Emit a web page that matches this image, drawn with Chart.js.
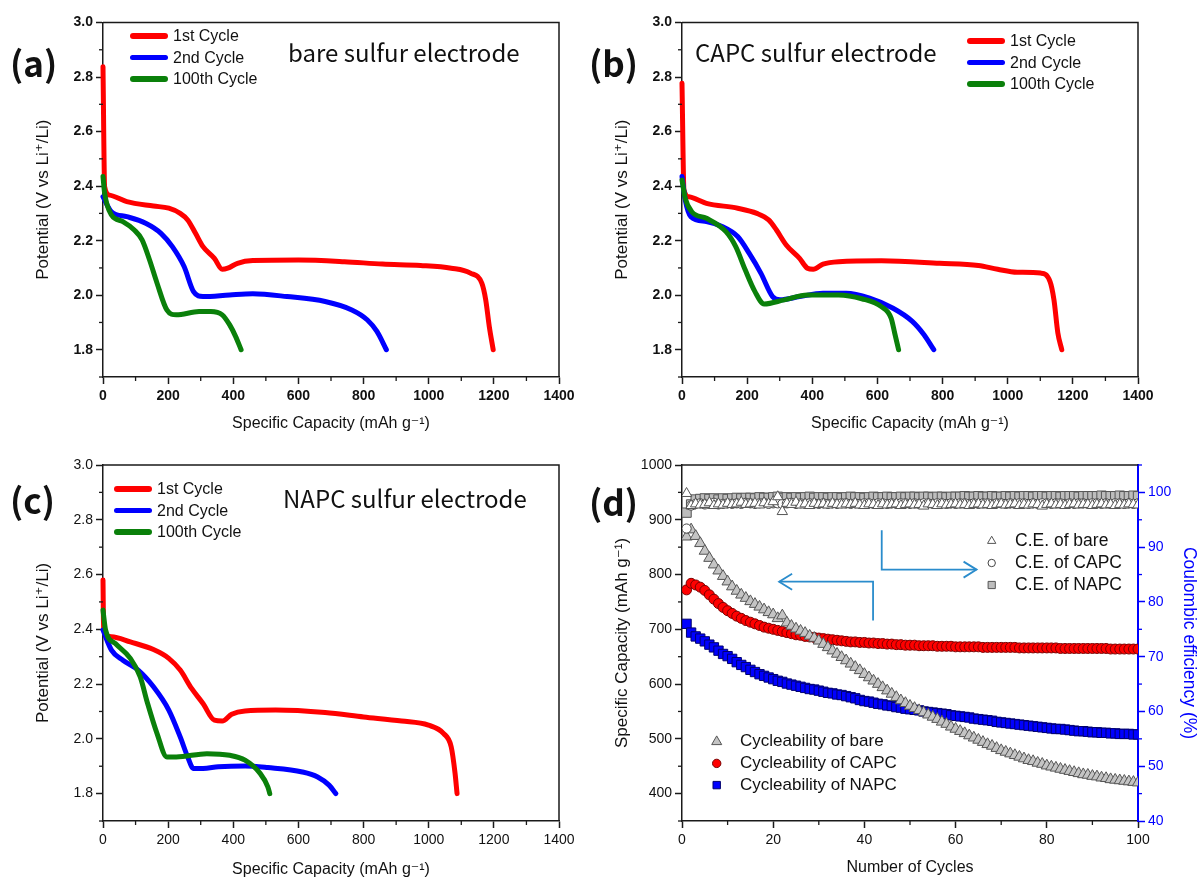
<!DOCTYPE html>
<html lang="en">
<head>
<meta charset="UTF-8">
<title>Discharge profiles and cycling of sulfur electrodes</title>
<script src="https://cdn.jsdelivr.net/npm/chart.js"></script>
<style>
  body { margin: 0; background: #fff; width: 1199px; height: 879px; position: relative; overflow: hidden;
         font-family: "Liberation Sans", Arial, sans-serif; }
  canvas { position: absolute; }
  .tag { position: absolute; font-family: "Noto Sans CJK KR", "Open Sans", sans-serif; font-weight: bold;
         font-size: 35px; height: 40px; line-height: 40px; color: #111; white-space: nowrap; }
  .note { position: absolute; font-family: "Noto Sans CJK KR", "Open Sans", sans-serif; font-size: 24px;
          height: 30px; line-height: 30px; color: #111; white-space: nowrap; }
  .legend { position: absolute; font-size: 16px; color: #111; }
  .legend .row { display: flex; align-items: center; height: 21.7px; white-space: nowrap; }
  .legend .sw { display: inline-block; width: 38px; height: 5.5px; border-radius: 3px; margin-right: 5px; }
</style>
</head>
<body>
<canvas id="chartA" width="600" height="440" style="left:0;top:0"></canvas>
<canvas id="chartB" width="600" height="440" style="left:599px;top:0"></canvas>
<canvas id="chartC" width="600" height="439" style="left:0;top:440px"></canvas>
<canvas id="chartD" width="600" height="439" style="left:599px;top:440px"></canvas>

<div class="tag" style="left:10px;top:42px">(a)</div>
<div class="tag" style="left:589px;top:42px">(b)</div>
<div class="tag" style="left:10px;top:479px">(c)</div>
<div class="tag" style="left:589px;top:481px">(d)</div>

<div class="note" style="left:288px;top:37px">bare sulfur electrode</div>
<div class="note" style="left:695px;top:37px">CAPC sulfur electrode</div>
<div class="note" style="left:283px;top:483px">NAPC sulfur electrode</div>

<div class="legend" id="legA" style="left:130px;top:25px"></div>
<div class="legend" id="legB" style="left:967px;top:30px"></div>
<div class="legend" id="legC" style="left:114px;top:478px"></div>

<script>
// ---- data: discharge curves (capacity mAh/g, potential V) ----
const cycleLabels = ['1st Cycle', '2nd Cycle', '100th Cycle'];
const cycleColors = ['#ff0000', '#0000ff', '#0a800a'];

// (a) bare sulfur electrode
const aCap1 = [0, 5, 20, 73, 155, 202, 237, 260, 284, 307, 342, 366, 383, 413, 460, 600, 741, 858, 975, 1069, 1128, 1163, 1175, 1186, 1198];
const aV1 = [2.838, 2.398, 2.367, 2.343, 2.327, 2.319, 2.300, 2.276, 2.227, 2.178, 2.135, 2.095, 2.099, 2.117, 2.127, 2.129, 2.123, 2.114, 2.109, 2.099, 2.081, 2.044, 1.983, 1.885, 1.800];
const aCap2 = [0, 26, 73, 131, 178, 213, 249, 278, 307, 389, 460, 565, 682, 764, 811, 841, 870];
const aV2 = [2.361, 2.306, 2.288, 2.264, 2.227, 2.178, 2.105, 2.013, 1.995, 2.001, 2.005, 1.995, 1.977, 1.946, 1.910, 1.867, 1.800];
const aCap100 = [0, 5, 26, 61, 96, 120, 143, 166, 196, 225, 295, 331, 366, 389, 407, 424];
const aV100 = [2.435, 2.374, 2.294, 2.270, 2.239, 2.203, 2.129, 2.044, 1.946, 1.928, 1.940, 1.940, 1.928, 1.891, 1.849, 1.800];

// (b) CAPC sulfur electrode
const bCap1 = [0, 6, 21, 75, 171, 230, 266, 290, 320, 361, 385, 403, 433, 481, 612, 791, 910, 969, 1029, 1101, 1130, 1142, 1154, 1166];
const bV1 = [2.777, 2.386, 2.361, 2.337, 2.319, 2.300, 2.276, 2.239, 2.184, 2.135, 2.099, 2.095, 2.114, 2.123, 2.126, 2.117, 2.109, 2.095, 2.084, 2.081, 2.050, 1.983, 1.861, 1.800];
const bCap2 = [0, 10, 27, 75, 123, 171, 206, 242, 278, 301, 361, 433, 504, 576, 648, 707, 743, 773];
const bV2 = [2.435, 2.349, 2.288, 2.270, 2.252, 2.215, 2.154, 2.081, 1.995, 1.983, 1.995, 2.007, 2.007, 1.989, 1.952, 1.904, 1.855, 1.800];
const bCap100 = [0, 10, 30, 75, 135, 165, 194, 224, 252, 314, 385, 481, 552, 612, 642, 653, 665];
const bV100 = [2.422, 2.355, 2.306, 2.282, 2.233, 2.178, 2.093, 2.013, 1.968, 1.983, 2.001, 2.001, 1.987, 1.958, 1.916, 1.861, 1.800];

// (c) NAPC sulfur electrode
const cCap1 = [0, 2, 26, 84, 155, 202, 237, 272, 307, 342, 366, 395, 436, 530, 682, 800, 917, 999, 1046, 1069, 1081, 1087];
const cV1 = [2.580, 2.397, 2.373, 2.354, 2.326, 2.294, 2.251, 2.184, 2.129, 2.068, 2.065, 2.090, 2.102, 2.105, 2.096, 2.080, 2.065, 2.050, 2.019, 1.971, 1.873, 1.800];
const cCap2 = [0, 26, 61, 108, 155, 202, 237, 260, 278, 307, 354, 436, 506, 612, 659, 694, 715];
const cV2 = [2.397, 2.324, 2.287, 2.251, 2.190, 2.105, 2.007, 1.934, 1.892, 1.892, 1.898, 1.901, 1.895, 1.879, 1.861, 1.831, 1.800];
const cCap100 = [0, 8, 38, 84, 114, 137, 166, 196, 225, 319, 389, 436, 483, 506, 512];
const cV100 = [2.470, 2.397, 2.348, 2.294, 2.227, 2.129, 2.019, 1.934, 1.934, 1.946, 1.940, 1.922, 1.873, 1.825, 1.800];

// ---- data: (d) cycling, cycles 1..100 ----
const capBare = [869, 882, 870, 857, 843, 830, 818, 807, 797, 787,
  778, 770, 763, 757, 751, 746, 741, 736, 731, 727,
  720, 725, 712, 706, 701, 697, 693, 688, 684, 679,
  673, 667, 661, 655, 649, 643, 637, 631, 625, 618,
  612, 606, 600, 594, 588, 582, 576, 570, 565, 560,
  556, 552, 548, 544, 540, 536, 531, 527, 522, 518,
  514, 510, 506, 502, 498, 494, 490, 487, 483, 479,
  476, 473, 470, 467, 464, 461, 459, 456, 454, 451,
  449, 447, 445, 443, 441, 439, 437, 435, 434, 432,
  431, 429, 428, 426, 425, 424, 423, 422, 421, 420];
const capCAPC = [772, 784, 781, 777, 771, 763, 755, 747, 740, 734,
  729, 724, 720, 716, 713, 710, 707, 704, 702, 700,
  698, 696, 694, 692, 690, 689, 687, 686, 685, 684,
  683, 682, 681, 680, 679, 678, 677, 677, 676, 676,
  675, 675, 674, 674, 673, 673, 672, 672, 671, 671,
  671, 670, 670, 670, 670, 669, 669, 669, 669, 668,
  668, 668, 668, 668, 668, 667, 667, 667, 667, 667,
  667, 667, 667, 666, 666, 666, 666, 666, 666, 666,
  666, 666, 665, 665, 665, 665, 665, 665, 665, 665,
  665, 665, 665, 664, 664, 664, 664, 664, 664, 664];
const capNAPC = [710, 694, 687, 683, 678, 672, 667, 661, 655, 651,
  646, 640, 635, 631, 626, 622, 618, 615, 612, 609,
  606, 604, 601, 599, 597, 595, 593, 591, 590, 588,
  586, 584, 583, 581, 580, 578, 576, 574, 571, 569,
  568, 566, 564, 563, 561, 560, 558, 557, 555, 554,
  553, 552, 550, 549, 548, 547, 546, 545, 543, 542,
  541, 540, 539, 537, 536, 535, 534, 533, 531, 530,
  529, 528, 527, 526, 525, 524, 523, 522, 521, 520,
  519, 518, 518, 517, 516, 515, 514, 514, 513, 512,
  512, 511, 511, 510, 510, 509, 509, 509, 508, 508];
const ceBare = [99.8, 97.6, 97.9, 97.7, 97.8, 98.1, 97.6, 97.9, 97.7, 98.0,
  97.8, 97.9, 98.2, 97.8, 97.9, 98.0, 97.7, 98.1, 97.9, 98.3,
  99.2, 96.5, 98.0, 97.8, 98.2, 97.7, 97.9, 97.6, 98.0, 97.8,
  97.9, 97.7, 98.0, 97.8, 97.7, 97.9, 97.8, 98.0, 97.7, 97.6,
  97.9, 97.8, 97.6, 97.9, 97.7, 97.8, 97.9, 97.6, 97.8, 97.9,
  97.7, 97.8, 97.5, 97.9, 97.8, 97.6, 97.9, 97.7, 97.8, 97.9,
  97.7, 97.8, 97.6, 97.8, 97.9, 97.7, 97.8, 97.6, 97.8, 97.9,
  97.7, 97.8, 97.9, 97.6, 97.8, 97.7, 97.9, 97.8, 97.5, 97.8,
  97.9, 97.7, 97.8, 97.6, 97.8, 97.9, 97.7, 97.8, 97.8, 97.6,
  97.8, 97.9, 97.7, 97.8, 97.6, 97.8, 97.7, 97.9, 97.8, 97.7];
const ceCAPC = [93.4, 97.6, 97.9, 98.0, 97.8, 97.9, 98.1, 97.8, 97.9, 98.0,
  97.9, 98.0, 97.9, 98.1, 98.0, 97.9, 98.0, 98.1, 97.9, 98.0,
  98.0, 97.9, 98.0, 98.1, 97.9, 98.0, 97.9, 98.0, 98.0, 97.9,
  98.0, 97.9, 98.0, 97.9, 98.0, 98.0, 97.9, 98.0, 97.9, 98.0,
  98.0, 97.9, 98.0, 98.0, 97.9, 98.0, 97.9, 98.0, 98.0, 97.9,
  98.0, 97.9, 98.0, 98.0, 97.9, 98.0, 98.0, 97.9, 98.0, 97.9,
  98.0, 98.0, 97.9, 98.0, 97.9, 98.0, 98.0, 97.9, 98.0, 98.0,
  97.9, 98.0, 97.9, 98.0, 98.0, 97.9, 98.0, 97.9, 98.0, 98.0,
  97.9, 98.0, 98.0, 97.9, 98.0, 97.9, 98.0, 98.0, 97.9, 98.0,
  98.0, 97.9, 98.0, 97.9, 98.0, 98.0, 97.9, 98.0, 97.9, 98.0];
const ceNAPC = [96.3, 97.8, 98.7, 98.8, 98.9, 98.8, 98.9, 98.7, 98.9, 98.8,
  98.9, 99.0, 98.9, 99.0, 99.0, 98.9, 99.1, 99.0, 99.0, 99.1,
  99.2, 99.0, 99.1, 99.0, 99.1, 99.0, 99.1, 99.2, 99.0, 99.1,
  99.1, 99.0, 99.1, 99.1, 99.0, 99.1, 99.2, 99.1, 99.1, 99.0,
  99.1, 99.2, 99.1, 99.1, 99.2, 99.1, 99.1, 99.2, 99.1, 99.2,
  99.2, 99.1, 99.2, 99.2, 99.1, 99.2, 99.2, 99.1, 99.2, 99.2,
  99.2, 99.3, 99.2, 99.2, 99.3, 99.2, 99.2, 99.3, 99.2, 99.2,
  99.3, 99.2, 99.3, 99.2, 99.3, 99.3, 99.2, 99.3, 99.3, 99.2,
  99.3, 99.3, 99.2, 99.3, 99.3, 99.3, 99.2, 99.3, 99.3, 99.3,
  99.3, 99.4, 99.3, 99.3, 99.3, 99.4, 99.3, 99.3, 99.4, 99.3];
const cycles = capBare.map((v, i) => i + 1);

// arrows in (d), in data units: [cycle, capacity] path, head at the last point
const arrowRight = [[43.8, 881], [43.8, 809], [64.6, 809]];
const arrowLeft = [[41.9, 716], [41.9, 787], [21.3, 787]];

// ---- drawing ----
const FONT = "'Liberation Sans', 'DejaVu Sans', Arial, sans-serif";
const AXIS = '#1a1a1a';
const BLUE = '#0000ff';
Chart.defaults.font.family = FONT;

function majorOnly(color) {
  return c => (c.tick && c.tick.label === '') ? 'rgba(0,0,0,0)' : color;
}

// short ticks for the unlabelled steps
const minorTicks = {
  id: 'minorTicks',
  afterDraw(chart) {
    const ctx = chart.ctx;
    Object.values(chart.scales).forEach(s => {
      ctx.save();
      ctx.strokeStyle = s.options.border.color;
      ctx.lineWidth = 1.3;
      s.ticks.forEach(t => {
        if (t.label !== '') return;
        const p = s.getPixelForValue(t.value);
        ctx.beginPath();
        if (s.position === 'bottom') { ctx.moveTo(p, s.top); ctx.lineTo(p, s.top + 4); }
        else if (s.position === 'left') { ctx.moveTo(s.right, p); ctx.lineTo(s.right - 4, p); }
        else { ctx.moveTo(s.left, p); ctx.lineTo(s.left + 4, p); }
        ctx.stroke();
      });
      ctx.restore();
    });
  }
};

function frame(right) {
  return {
    id: 'frame',
    afterDraw(chart) {
      const a = chart.chartArea, ctx = chart.ctx;
      ctx.save();
      ctx.strokeStyle = AXIS;
      ctx.lineWidth = 1.5;
      ctx.beginPath();
      ctx.moveTo(a.left, a.top);
      ctx.lineTo(a.right, a.top);
      if (right) ctx.lineTo(a.right, a.bottom);
      ctx.stroke();
      ctx.restore();
    }
  };
}

function curveChart(id, caps, volts, box, bold) {
  const weight = bold ? 'bold' : 'normal';
  const datasets = cycleLabels.map((lab, i) => ({
    label: lab,
    data: caps[i].map((x, j) => ({x: x, y: volts[i][j]})),
    borderColor: cycleColors[i],
    borderWidth: 5,
    borderCapStyle: 'round',
    borderJoinStyle: 'round',
    pointRadius: 0,
    cubicInterpolationMode: 'monotone',
    order: 2 - i,
    clip: 6
  }));
  return new Chart(document.getElementById(id), {
    type: 'line',
    data: {datasets: datasets},
    options: {
      responsive: false, animation: false, events: [],
      layout: {padding: {top: box.top, right: box.right, bottom: 0, left: 0}},
      plugins: {legend: {display: false}, tooltip: {enabled: false}},
      scales: {
        x: {
          type: 'linear', min: 0, max: 1400,
          afterFit: s => { s.height = box.xh; },
          ticks: {stepSize: 100, autoSkip: false, maxRotation: 0, padding: 4, color: '#111',
                  font: {size: 14, weight: weight},
                  callback: v => (v % 200 === 0 ? String(v) : '')},
          grid: {drawOnChartArea: false, tickLength: 7, tickWidth: 1.5, tickColor: majorOnly(AXIS)},
          border: {color: AXIS, width: 1.5},
          title: {display: true, text: 'Specific Capacity (mAh g\u207B\u00B9)', color: '#111',
                  font: {size: 16}, padding: {top: 0, bottom: box.xtp}}
        },
        y: {
          min: 1.7, max: 3.0,
          afterFit: s => { s.width = box.yw; },
          ticks: {stepSize: 0.1, autoSkip: false, padding: 3, color: '#111',
                  font: {size: 14, weight: weight},
                  callback: v => (Math.round(v * 10) % 2 === 0 ? v.toFixed(1) : '')},
          grid: {drawOnChartArea: false, tickLength: 7, tickWidth: 1.5, tickColor: majorOnly(AXIS)},
          border: {color: AXIS, width: 1.5},
          title: {display: true, text: 'Potential (V vs Li\u207A/Li)', color: '#111',
                  font: {size: 17}, padding: {top: box.ytp, bottom: 0}}
        }
      }
    },
    plugins: [minorTicks, frame(true)]
  });
}

function legendHtml(el) {
  el.innerHTML = cycleLabels.map((lab, i) =>
    '<div class="row"><span class="sw" style="background:' + cycleColors[i] + '"></span>' + lab + '</div>').join('');
}

curveChart('chartA', [aCap1, aCap2, aCap100], [aV1, aV2, aV100], {top: 22.5, right: 41, xh: 63, yw: 103, xtp: 6.4, ytp: 32.8}, true);
curveChart('chartB', [bCap1, bCap2, bCap100], [bV1, bV2, bV100], {top: 22.5, right: 61, xh: 63, yw: 83, xtp: 6.4, ytp: 12.8}, true);
curveChart('chartC', [cCap1, cCap2, cCap100], [cV1, cV2, cV100], {top: 25, right: 41, xh: 58, yw: 103, xtp: 0, ytp: 32.8}, false);
legendHtml(document.getElementById('legA'));
legendHtml(document.getElementById('legB'));
legendHtml(document.getElementById('legC'));

// ---- (d) ----
function marker(ctx, style, x, y, r, fill, stroke) {
  ctx.beginPath();
  if (style === 'triangle') {
    ctx.moveTo(x, y - r);
    ctx.lineTo(x + r * 0.866, y + r * 0.5);
    ctx.lineTo(x - r * 0.866, y + r * 0.5);
    ctx.closePath();
  } else if (style === 'circle') {
    ctx.arc(x, y, r, 0, Math.PI * 2);
  } else {
    ctx.rect(x - r, y - r, 2 * r, 2 * r);
  }
  ctx.fillStyle = fill; ctx.strokeStyle = stroke; ctx.lineWidth = 1;
  ctx.fill(); ctx.stroke();
}

const dDecor = {
  id: 'dDecor',
  afterDraw(chart) {
    const ctx = chart.ctx, sx = chart.scales.x, sy = chart.scales.y;
    ctx.save();
    // arrows
    ctx.strokeStyle = '#2a8ccc';
    ctx.lineWidth = 1.8;
    [arrowRight, arrowLeft].forEach(path => {
      const pts = path.map(p => [sx.getPixelForValue(p[0]), sy.getPixelForValue(p[1])]);
      ctx.beginPath();
      pts.forEach((p, i) => (i ? ctx.lineTo(p[0], p[1]) : ctx.moveTo(p[0], p[1])));
      ctx.stroke();
      const e = pts[pts.length - 1], s = pts[pts.length - 2];
      const dir = Math.sign(e[0] - s[0]);
      ctx.beginPath();
      ctx.moveTo(e[0] - dir * 13, e[1] - 8);
      ctx.lineTo(e[0], e[1]);
      ctx.lineTo(e[0] - dir * 13, e[1] + 8);
      ctx.stroke();
    });
    // legends
    ctx.textBaseline = 'middle';
    const ds = chart.data.datasets;
    const ceSize = {triangle: 4.8, circle: 3.7, rect: 3.6};
    const capSize = {triangle: 5.8, circle: 4.2, rect: 3.7};
    [0, 1, 2].forEach((k, i) => {
      const y = 101 + i * 22;
      marker(ctx, ds[k].pointStyle, 392.7, y, ceSize[ds[k].pointStyle], ds[k].backgroundColor, ds[k].borderColor);
      ctx.fillStyle = '#111';
      ctx.font = '17.5px ' + FONT;
      ctx.fillText(ds[k].label, 416, y);
    });
    [3, 4, 5].forEach((k, i) => {
      const y = 301.7 + i * 21.7;
      marker(ctx, ds[k].pointStyle, 117.7, y, capSize[ds[k].pointStyle], ds[k].backgroundColor, ds[k].borderColor);
      ctx.fillStyle = '#111';
      ctx.font = '17px ' + FONT;
      ctx.fillText(ds[k].label, 141, y);
    });
    ctx.restore();
  }
};

function pts(vals) { return vals.map((v, i) => ({x: cycles[i], y: v})); }

new Chart(document.getElementById('chartD'), {
  type: 'scatter',
  data: {
    datasets: [
      {label: 'C.E. of bare', data: pts(ceBare), yAxisID: 'y2', pointStyle: 'triangle', pointRadius: 6,
       backgroundColor: '#ffffff', borderColor: '#555555', pointBorderWidth: 1},
      {label: 'C.E. of CAPC', data: pts(ceCAPC), yAxisID: 'y2', pointStyle: 'circle', pointRadius: 4.6,
       backgroundColor: '#ffffff', borderColor: '#444444', pointBorderWidth: 1},
      {label: 'C.E. of NAPC', data: pts(ceNAPC), yAxisID: 'y2', pointStyle: 'rect', pointRadius: 6.6,
       backgroundColor: '#bdbdbd', borderColor: '#555555', pointBorderWidth: 1},
      {label: 'Cycleability of bare', data: pts(capBare), yAxisID: 'y', pointStyle: 'triangle', pointRadius: 6.5,
       backgroundColor: '#c4c4c4', borderColor: '#555555', pointBorderWidth: 1},
      {label: 'Cycleability of CAPC', data: pts(capCAPC), yAxisID: 'y', pointStyle: 'circle', pointRadius: 5,
       backgroundColor: '#ff0000', borderColor: '#7a0000', pointBorderWidth: 1},
      {label: 'Cycleability of NAPC', data: pts(capNAPC), yAxisID: 'y', pointStyle: 'rect', pointRadius: 6.6,
       backgroundColor: '#0000ff', borderColor: '#00006e', pointBorderWidth: 1}
    ]
  },
  options: {
    responsive: false, animation: false, events: [],
    layout: {padding: {top: 25, right: 0, bottom: 0, left: 0}},
    plugins: {legend: {display: false}, tooltip: {enabled: false}},
    scales: {
      x: {
        type: 'linear', min: 0, max: 100,
        afterFit: s => { s.height = 58; },
        ticks: {stepSize: 10, autoSkip: false, maxRotation: 0, padding: 4, color: '#111', font: {size: 14},
                callback: v => (v % 20 === 0 ? String(v) : '')},
        grid: {drawOnChartArea: false, tickLength: 7, tickWidth: 1.5, tickColor: majorOnly(AXIS)},
        border: {color: AXIS, width: 1.5},
        title: {display: true, text: 'Number of Cycles', color: '#111', font: {size: 16}, padding: {top: 0, bottom: 1.4}}
      },
      y: {
        position: 'left', min: 350, max: 1000,
        afterFit: s => { s.width = 83; },
        ticks: {stepSize: 50, autoSkip: false, padding: 3, color: '#111', font: {size: 14},
                callback: v => (v % 100 === 0 ? String(v) : '')},
        grid: {drawOnChartArea: false, tickLength: 7, tickWidth: 1.5, tickColor: majorOnly(AXIS)},
        border: {color: AXIS, width: 1.5},
        title: {display: true, text: 'Specific Capacity (mAh g\u207B\u00B9)', color: '#111', font: {size: 17},
                padding: {top: 12.8, bottom: 0}}
      },
      y2: {
        position: 'right', min: 40, max: 105,
        afterFit: s => { s.width = 61; },
        ticks: {stepSize: 5, autoSkip: false, padding: 3, color: BLUE, font: {size: 14},
                callback: v => (v % 10 === 0 && v <= 100 ? String(v) : '')},
        grid: {drawOnChartArea: false, tickLength: 7, tickWidth: 1.5, tickColor: majorOnly(BLUE)},
        border: {color: BLUE, width: 2},
        title: {display: true, text: 'Coulombic efficiency (%)', color: BLUE, font: {size: 17.5}, padding: {top: 0, bottom: 0}}
      }
    }
  },
  plugins: [minorTicks, frame(false), dDecor]
});
</script>
</body>
</html>
